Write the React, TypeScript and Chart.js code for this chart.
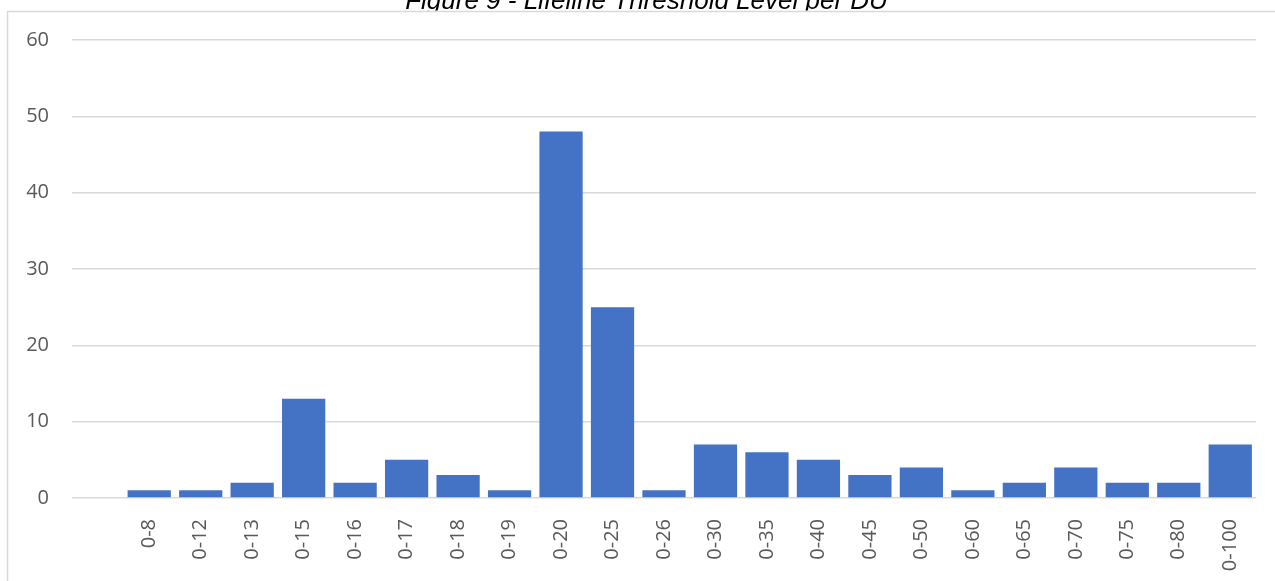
import React, { useEffect, useRef } from "react";
import { Chart, registerables } from "chart.js";

Chart.register(...registerables);

const categories: string[] = [
  "", "0-8", "0-12", "0-13", "0-15", "0-16", "0-17", "0-18", "0-19", "0-20", "0-25", "0-26",
  "0-30", "0-35", "0-40", "0-45", "0-50", "0-60", "0-65", "0-70", "0-75", "0-80", "0-100",
];
const counts: (number | null)[] = [
  null, 1, 1, 2, 13, 2, 5, 3, 1, 48, 25, 1, 7, 6, 5, 3, 4, 1, 2, 4, 2, 2, 7,
];
const yTicks: number[] = [0, 10, 20, 30, 40, 50, 60];
const titleText = "Figure 9 - Lifeline Threshold Level per DU";

const W = 1275;
const H = 581;

const framePlugin = {
  id: "frameAndTitle",
  beforeDraw(chart: any) {
    const ctx = chart.ctx as CanvasRenderingContext2D;
    ctx.save();
    ctx.strokeStyle = "#d9d9d9";
    ctx.lineWidth = 1.5;
    ctx.beginPath();
    ctx.moveTo(7.5, H + 2);
    ctx.lineTo(7.5, 11.5);
    ctx.lineTo(W + 2, 11.5);
    ctx.stroke();
    ctx.beginPath();
    ctx.rect(0, 0, W, 10.5);
    ctx.clip();
    ctx.fillStyle = "#000000";
    ctx.font = "italic 26px 'Liberation Sans', Arial, sans-serif";
    ctx.textAlign = "center";
    ctx.textBaseline = "alphabetic";
    ctx.fillText(titleText, 646.5, 9);
    ctx.restore();
  },
};

export default function App() {
  const ref = useRef<HTMLCanvasElement | null>(null);
  useEffect(() => {
    if (!ref.current) return;
    const chart = new Chart(ref.current, {
      type: "bar",
      data: {
        labels: categories,
        datasets: [
          {
            data: counts,
            backgroundColor: "#4472C4",
            borderWidth: 0,
            categoryPercentage: 1,
            barPercentage: 0.84,
          },
        ],
      },
      options: {
        responsive: false,
        animation: false,
        layout: { padding: { top: 40, right: 19, left: 0, bottom: 0 } },
        plugins: {
          legend: { display: false },
          title: { display: false },
          tooltip: { enabled: false },
        },
        scales: {
          x: {
            grid: { display: false },
            border: { display: false },
            ticks: {
              autoSkip: false,
              minRotation: 90,
              maxRotation: 90,
              padding: 13,
              color: "#595959",
              font: { family: "'Open Sans', sans-serif", size: 20 },
            },
            afterFit(scale: any) {
              scale.height = 83;
            },
          },
          y: {
            min: 0,
            max: 60,
            afterBuildTicks(scale: any) {
              scale.ticks = yTicks.map((v) => ({ value: v }));
            },
            grid: { color: "#d9d9d9", lineWidth: 1.5, drawTicks: false },
            border: { display: false },
            ticks: {
              padding: 23,
              color: "#595959",
              font: { family: "'Open Sans', sans-serif", size: 20 },
            },
            afterFit(scale: any) {
              scale.width = 72;
            },
          },
        },
      },
      plugins: [framePlugin],
    });
    return () => chart.destroy();
  }, []);
  return (
    <div style={{ position: "fixed", left: 0, top: 0, width: W, height: H, background: "#fff" }}>
      <canvas ref={ref} width={W} height={H} style={{ display: "block", width: W, height: H }} />
    </div>
  );
}
